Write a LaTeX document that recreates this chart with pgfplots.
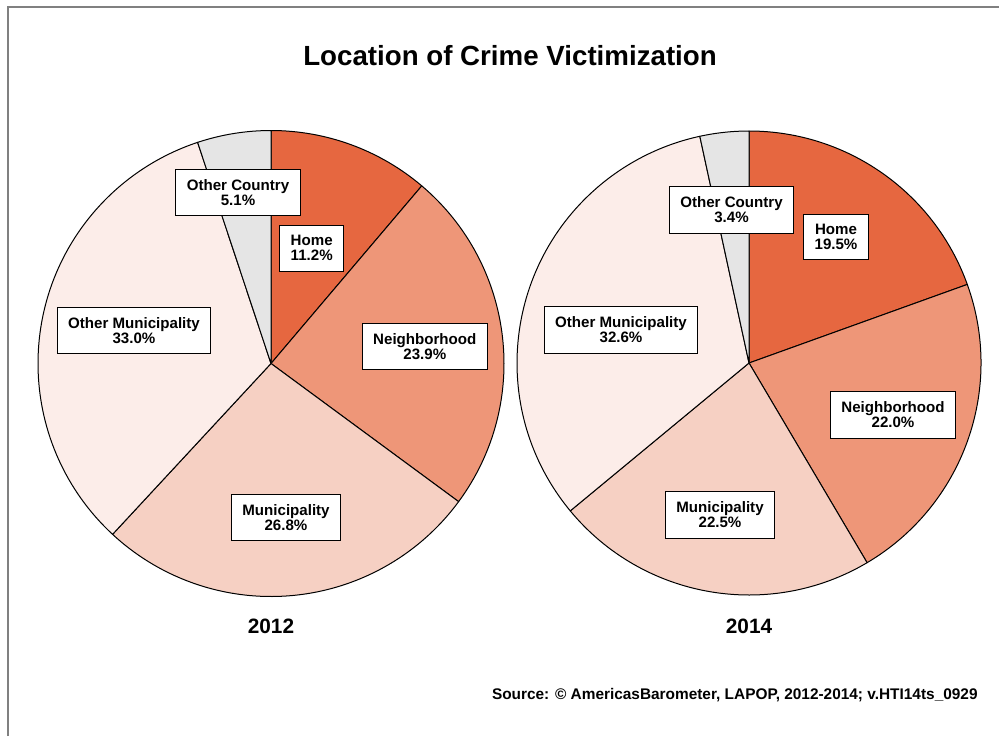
\documentclass[border=0pt]{standalone}
\usepackage{pgfplots}
\pgfplotsset{compat=1.18}
\usepackage{pgfplotstable}
\usepackage{fontspec}
\setmainfont{Liberation Sans}

\definecolor{cHome}{RGB}{230,103,64}
\definecolor{cNeigh}{RGB}{238,150,120}
\definecolor{cMuni}{RGB}{246,208,195}
\definecolor{cOMuni}{RGB}{252,237,233}
\definecolor{cOCountry}{RGB}{229,229,229}

% share in percent, slice colour, label position (pixels from bottom left)
\pgfplotstableread{
label value col lx ly
Home 11.2 cHome 311.7 487.7
Neighborhood 23.9 cNeigh 424.8 389.7
Municipality 26.8 cMuni 286 218.5
{Other Municipality} 33.0 cOMuni 134 405.3
{Other Country} 5.1 cOCountry 238 543.5
}\pietwelve

\pgfplotstableread{
label value col lx ly
Home 19.5 cHome 836 499
Neighborhood 22.0 cNeigh 893 321
Municipality 22.5 cMuni 720 221
{Other Municipality} 32.6 cOMuni 621 406
{Other Country} 3.4 cOCountry 731.5 526
}\piefourteen

% #1 table, #2 #3 centre (axis units), #4 radius
\newcommand\drawpie[4]{%
  \pgfmathsetmacro\cum{0}%
  \pgfplotstablegetrowsof{#1}\pgfmathtruncatemacro\nrows{\pgfplotsretval-1}%
  \pgfplotsforeachungrouped \i in {0,...,\nrows}{%
    \pgfplotstablegetelem{\i}{value}\of{#1}\let\pval\pgfplotsretval
    \pgfplotstablegetelem{\i}{col}\of{#1}\let\pcol\pgfplotsretval
    \pgfmathsetmacro\angA{90-3.6*\cum}%
    \pgfmathsetmacro\angB{90-3.6*(\cum+\pval)}%
    \pgfmathsetmacro\cum{\cum+\pval}%
    \edef\temp{\noexpand\filldraw[fill=\pcol,draw=black,line width=0.5pt,line join=round]
      (axis cs:#2,#3) -- ++(\angA:#4) arc[start angle=\angA,end angle=\angB,radius=#4] -- cycle;}%
    \temp
  }%
  \pgfplotsforeachungrouped \i in {0,...,\nrows}{%
    \pgfplotstablegetelem{\i}{value}\of{#1}\let\pval\pgfplotsretval
    \pgfplotstablegetelem{\i}{label}\of{#1}\let\plab\pgfplotsretval
    \pgfplotstablegetelem{\i}{lx}\of{#1}\let\plx\pgfplotsretval
    \pgfplotstablegetelem{\i}{ly}\of{#1}\let\ply\pgfplotsretval
    \edef\temp{\noexpand\node[lbl] at (axis cs:\plx,\ply)
      {\unexpanded\expandafter{\plab}\noexpand\\\pval\noexpand\%};}%
    \temp
  }%
}

\begin{document}
\begin{tikzpicture}[
  lbl/.style={draw=black, fill=white, line width=0.5pt, align=center,
    inner xsep=5.5pt, inner ysep=5pt,
    font=\bfseries\fontsize{7.55}{7.5}\selectfont}]
\begin{axis}[
  x=0.5pt, y=0.5pt,
  xmin=0, xmax=999, ymin=0, ymax=736,
  hide axis, clip=false]
\coordinate (bl) at (axis cs:0,0);
\coordinate (tr) at (axis cs:999,736);
\draw[gray, line width=1pt] (axis cs:8,0) -- (axis cs:8,729) -- (axis cs:999,729);

\drawpie{\pietwelve}{271}{372.5}{116.5pt}
\drawpie{\piefourteen}{749}{373}{116pt}

\node[anchor=base, font=\bfseries\fontsize{13.85}{16}\selectfont]
  at (axis cs:510,671) {Location of Crime Victimization};
\node[anchor=base, font=\bfseries\fontsize{10.4}{12}\selectfont]
  at (axis cs:271,103) {2012};
\node[anchor=base, font=\bfseries\fontsize{10.4}{12}\selectfont]
  at (axis cs:749,103) {2014};
\node[anchor=base east, inner sep=0pt, font=\bfseries\fontsize{7.7}{9}\selectfont]
  at (axis cs:978,37) {Source: © AmericasBarometer, LAPOP, 2012-2014; v.HTI14ts\_0929};
\end{axis}
\pgfresetboundingbox
\path (bl) rectangle (tr);
\end{tikzpicture}
\end{document}
